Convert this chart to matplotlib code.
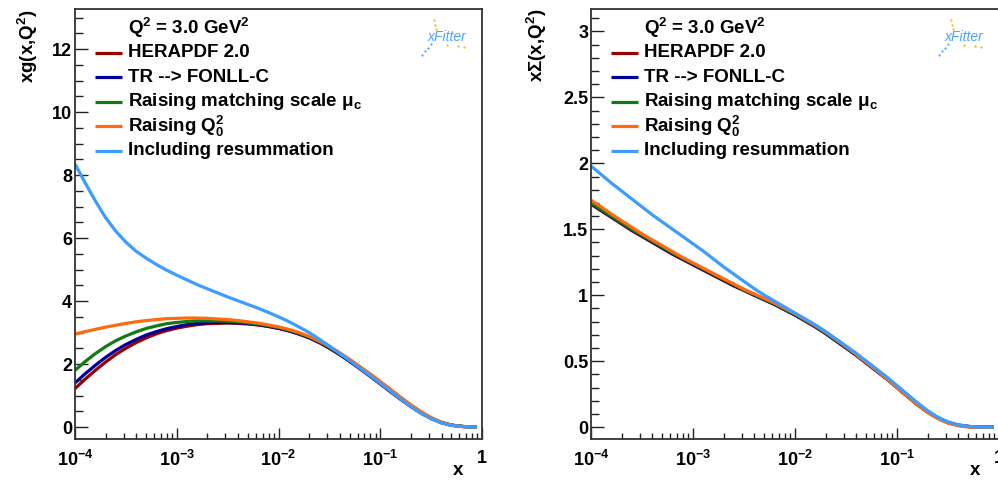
#!/usr/bin/env python3

import matplotlib
matplotlib.use("Agg")
import matplotlib.pyplot as plt
import matplotlib.ticker as ticker
import numpy as np

# log10(x) nodes shared by every curve
log_x = [-4.0, -3.9, -3.8, -3.7, -3.6, -3.5, -3.4, -3.3, -3.2, -3.1,
         -3.0, -2.9, -2.8, -2.7, -2.6, -2.5, -2.4, -2.3, -2.2, -2.1,
         -2.0, -1.9, -1.8, -1.7, -1.6, -1.5, -1.4, -1.3, -1.2, -1.1,
         -1.0, -0.9, -0.8, -0.7, -0.6, -0.5, -0.4, -0.3, -0.2, -0.1,
         -0.05]

labels = ["HERAPDF 2.0", "TR --> FONLL-C", r"Raising matching scale $\mu_{c}$",
          r"Raising Q$_{0}^{2}$", "Including resummation"]
colors = ["#990000", "#000099", "#137a13", "#ff6a10", "#3d9cff"]

# gluon xg(x, Q^2)
xg_herapdf = [1.22, 1.52, 1.80, 2.06, 2.30, 2.50, 2.68, 2.83, 2.96, 3.06,
              3.14, 3.20, 3.25, 3.28, 3.29, 3.30, 3.29, 3.27, 3.24, 3.19,
              3.13, 3.05, 2.95, 2.83, 2.68, 2.50, 2.30, 2.08, 1.85, 1.61,
              1.37, 1.12, 0.88, 0.65, 0.44, 0.27, 0.14, 0.06, 0.02, 0.0,
              0.0]
xg_fonll = [1.40, 1.69, 1.96, 2.21, 2.43, 2.62, 2.78, 2.92, 3.03, 3.12,
            3.19, 3.25, 3.29, 3.31, 3.32, 3.32, 3.31, 3.29, 3.25, 3.20,
            3.14, 3.06, 2.96, 2.84, 2.69, 2.51, 2.31, 2.09, 1.86, 1.62,
            1.38, 1.13, 0.89, 0.66, 0.45, 0.28, 0.14, 0.06, 0.02, 0.0,
            0.0]
xg_muc = [1.80, 2.08, 2.33, 2.55, 2.74, 2.89, 3.02, 3.13, 3.21, 3.28,
          3.32, 3.35, 3.37, 3.37, 3.37, 3.36, 3.34, 3.31, 3.27, 3.22,
          3.16, 3.08, 2.98, 2.86, 2.71, 2.53, 2.33, 2.11, 1.88, 1.64,
          1.40, 1.15, 0.91, 0.68, 0.47, 0.29, 0.15, 0.06, 0.02, 0.0,
          0.0]
xg_q0 = [2.95, 3.03, 3.10, 3.17, 3.23, 3.29, 3.34, 3.38, 3.41, 3.44,
         3.45, 3.46, 3.46, 3.45, 3.43, 3.41, 3.38, 3.34, 3.30, 3.24,
         3.18, 3.10, 3.00, 2.88, 2.73, 2.56, 2.36, 2.15, 1.92, 1.69,
         1.45, 1.20, 0.95, 0.71, 0.49, 0.30, 0.15, 0.06, 0.02, 0.0,
         0.0]
xg_resum = [8.35, 7.75, 7.18, 6.65, 6.22, 5.87, 5.58, 5.36, 5.16, 4.98,
            4.82, 4.67, 4.52, 4.39, 4.26, 4.13, 4.01, 3.89, 3.77, 3.64,
            3.50, 3.35, 3.18, 3.00, 2.79, 2.57, 2.34, 2.11, 1.87, 1.63,
            1.39, 1.14, 0.89, 0.65, 0.44, 0.26, 0.13, 0.05, 0.015, 0.0,
            0.0]

# singlet xSigma(x, Q^2)
xs_herapdf = [1.69, 1.64, 1.59, 1.54, 1.49, 1.445, 1.40, 1.355, 1.31, 1.27,
              1.23, 1.19, 1.15, 1.11, 1.07, 1.035, 1.00, 0.965, 0.93, 0.89,
              0.85, 0.805, 0.76, 0.71, 0.655, 0.60, 0.545, 0.485, 0.425, 0.365,
              0.30, 0.235, 0.17, 0.115, 0.07, 0.035, 0.015, 0.005, 0.0, 0.0,
              0.0]
xs_fonll = [1.695, 1.645, 1.595, 1.545, 1.495, 1.45, 1.405, 1.36, 1.315, 1.275,
            1.235, 1.195, 1.155, 1.115, 1.075, 1.04, 1.00, 0.965, 0.93, 0.89,
            0.85, 0.805, 0.76, 0.71, 0.655, 0.60, 0.545, 0.485, 0.425, 0.365,
            0.30, 0.235, 0.17, 0.115, 0.07, 0.035, 0.015, 0.005, 0.0, 0.0,
            0.0]
xs_muc = [1.70, 1.65, 1.60, 1.55, 1.50, 1.455, 1.41, 1.365, 1.32, 1.28,
          1.24, 1.20, 1.16, 1.12, 1.08, 1.04, 1.005, 0.97, 0.935, 0.895,
          0.855, 0.81, 0.765, 0.715, 0.66, 0.605, 0.55, 0.49, 0.43, 0.37,
          0.305, 0.24, 0.175, 0.115, 0.07, 0.035, 0.015, 0.005, 0.0, 0.0,
          0.0]
xs_q0 = [1.72, 1.67, 1.615, 1.565, 1.515, 1.465, 1.42, 1.375, 1.33, 1.285,
         1.245, 1.205, 1.165, 1.125, 1.085, 1.045, 1.01, 0.975, 0.94, 0.90,
         0.86, 0.815, 0.77, 0.72, 0.665, 0.61, 0.55, 0.49, 0.43, 0.365,
         0.30, 0.235, 0.17, 0.11, 0.065, 0.03, 0.01, 0.0, 0.0, 0.0,
         0.0]
xs_resum = [1.98, 1.915, 1.85, 1.79, 1.73, 1.67, 1.61, 1.555, 1.50, 1.445,
            1.39, 1.335, 1.275, 1.215, 1.16, 1.105, 1.05, 1.00, 0.955, 0.91,
            0.865, 0.82, 0.775, 0.725, 0.67, 0.615, 0.56, 0.50, 0.44, 0.38,
            0.315, 0.25, 0.185, 0.125, 0.075, 0.04, 0.018, 0.006, 0.0, 0.0,
            0.0]

plt.rcParams["font.family"] = ["Liberation Sans", "DejaVu Sans"]
plt.rcParams["font.weight"] = "bold"
plt.rcParams["mathtext.fontset"] = "custom"
plt.rcParams["mathtext.rm"] = "Liberation Sans:bold"
plt.rcParams["mathtext.it"] = "Liberation Sans:bold"
plt.rcParams["mathtext.bf"] = "Liberation Sans:bold"

FS = 13.5


def log_label(v, pos):
    e = int(round(np.log10(v)))
    if e == 0:
        return "1"
    return r"$10^{%d}$" % e


def draw_logo(ax):
    # small xFitter badge in the top right corner
    ax.text(0.915, 0.935, "xFitter", transform=ax.transAxes, fontsize=10,
            style="italic", fontweight="normal", color="#4aa3ff",
            ha="center", va="center")
    ax.scatter([0.875, 0.867, 0.860, 0.853], [0.919, 0.909, 0.902, 0.893],
               s=2.5, color="#4aa3ff", transform=ax.transAxes, lw=0)
    ax.scatter([0.882, 0.885, 0.887, 0.914, 0.941, 0.956],
               [0.974, 0.963, 0.953, 0.917, 0.914, 0.912],
               s=3, color="#f3c030", transform=ax.transAxes, lw=0)


def draw_panel(ax, curves, ylim, major, minor, ylabel, label_x):
    x = 10 ** np.array(log_x)
    for vals, color in zip(curves, colors):
        ax.plot(x, vals, color=color, lw=2.3, solid_capstyle="butt")

    ax.set_xscale("log")
    ax.set_xlim(1e-4, 1)
    ax.set_ylim(*ylim)
    ax.xaxis.set_major_locator(ticker.LogLocator(base=10, numticks=10))
    ax.xaxis.set_minor_locator(ticker.LogLocator(base=10, subs=np.arange(2, 10), numticks=10))
    ax.xaxis.set_major_formatter(ticker.FuncFormatter(log_label))
    ax.xaxis.set_minor_formatter(ticker.NullFormatter())
    ax.yaxis.set_major_locator(ticker.MultipleLocator(major))
    ax.yaxis.set_minor_locator(ticker.MultipleLocator(minor))
    ax.yaxis.set_major_formatter(ticker.FuncFormatter(lambda v, p: "%g" % v))

    ax.tick_params(which="both", direction="in", top=False, right=False,
                   width=1.0, color="#222222", labelsize=FS - 0.5)
    ax.tick_params(axis="y", which="major", length=9.5, pad=2)
    ax.tick_params(axis="y", which="minor", length=5.5)
    ax.tick_params(axis="x", which="major", length=8, pad=8)
    ax.tick_params(axis="x", which="minor", length=4.5)
    for s in ax.spines.values():
        s.set_linewidth(1.3)
        s.set_color("#333333")

    ax.text(label_x, 1.0, ylabel, transform=ax.transAxes, rotation=90,
            ha="center", va="top", fontsize=FS)
    ax.text(0.941, -0.074, "x", transform=ax.transAxes, ha="center",
            va="center", fontsize=FS)

    # legend built by hand, ROOT style
    y0 = 0.955
    step = 0.057
    ax.text(0.13, y0, r"Q$^{2}$ = 3.0 GeV$^{2}$", transform=ax.transAxes,
            va="center", ha="left", fontsize=FS)
    for i, (lab, color) in enumerate(zip(labels, colors)):
        yy = y0 - step * (i + 1)
        ax.plot([0.049, 0.115], [yy, yy], color=color, lw=2.3,
                transform=ax.transAxes, solid_capstyle="butt")
        ax.text(0.13, yy, lab, transform=ax.transAxes, va="center",
                ha="left", fontsize=FS)

    draw_logo(ax)


if __name__ == "__main__":
    fig = plt.figure(figsize=(9.98, 4.8), dpi=100)
    ax1 = fig.add_axes([75 / 998, 41 / 480, 407 / 998, 430 / 480])
    ax2 = fig.add_axes([591 / 998, 41 / 480, 408 / 998, 430 / 480])

    draw_panel(ax1, [xg_herapdf, xg_fonll, xg_muc, xg_q0, xg_resum],
               (-0.38, 13.27), 2, 0.5, r"xg(x,Q$^{2}$)", -0.115)
    draw_panel(ax2, [xs_herapdf, xs_fonll, xs_muc, xs_q0, xs_resum],
               (-0.09, 3.17), 0.5, 0.1, r"x$\Sigma$(x,Q$^{2}$)", -0.133)

    fig.savefig("out.png", dpi=100)
